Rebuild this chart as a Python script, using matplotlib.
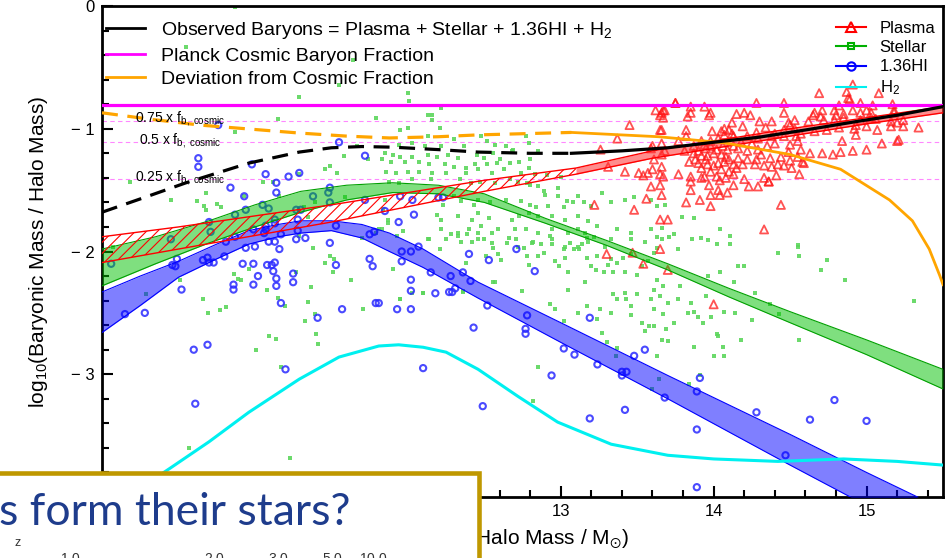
import numpy as np
import matplotlib
matplotlib.use('Agg')
import matplotlib.pyplot as plt
from matplotlib.lines import Line2D
from matplotlib.patches import Rectangle
from matplotlib.ticker import MultipleLocator, FuncFormatter

plt.rcParams['font.family'] = 'Liberation Sans'
plt.rcParams['mathtext.fontset'] = 'custom'
plt.rcParams['mathtext.rm'] = 'Liberation Sans'
plt.rcParams['mathtext.it'] = 'Liberation Sans:italic'
plt.rcParams['mathtext.default'] = 'regular'
plt.rcParams['hatch.linewidth'] = 0.8

# Planck cosmic baryon fraction (log10) and the fractions marked below it
log_fb = -0.81
frac_levels = [0.75, 0.5, 0.25]
frac_labels = [r'0.75 x f$_{\rm b,\ cosmic}$', r'0.5 x f$_{\rm b,\ cosmic}$',
               r'0.25 x f$_{\rm b,\ cosmic}$']
frac_label_x = [10.215, 10.24, 10.215]

# individual systems: (log10 halo mass, log10 component fraction)
plasma_pts = [
    (14.69, -0.71), (14.87, -0.70), (14.88, -0.75), (14.89, -0.76), (15.08, -0.71), (14.91, -0.64),
    (13.75, -0.79), (13.85, -0.82), (13.94, -0.82), (14.28, -0.79), (14.46, -0.79), (14.82, -0.81),
    (14.96, -0.79), (15.04, -0.81), (15.17, -0.80),
    (13.68, -0.85), (13.66, -0.87), (13.67, -0.91), (13.83, -0.90), (13.85, -0.87), (13.97, -0.89),
    (13.98, -0.87), (14.15, -0.88), (14.20, -0.87), (14.24, -0.89), (14.46, -0.87), (14.66, -0.87),
    (14.71, -0.85), (14.79, -0.85), (14.80, -0.89), (14.85, -0.88), (14.91, -0.85), (14.96, -0.87),
    (15.00, -0.85), (15.03, -0.87), (15.18, -0.85), (15.18, -0.87), (14.70, -0.90), (14.65, -0.89),
    (14.85, -0.91),
    (14.12, -0.95), (14.30, -0.94), (14.38, -0.94), (14.49, -0.95), (14.50, -0.97), (14.53, -0.93),
    (14.62, -0.94), (14.72, -0.93), (14.79, -0.93), (14.96, -0.93), (15.03, -0.91), (15.06, -0.92),
    (15.16, -0.94), (15.24, -0.93), (15.24, -0.98), (14.93, -0.97), (15.00, -0.98), (15.34, -0.99),
    (14.19, -0.98), (14.07, -1.00), (14.10, -1.01), (14.05, -1.02), (13.99, -1.02), (13.66, -1.01),
    (13.82, -1.01), (14.28, -1.03), (14.34, -0.99), (14.40, -1.04), (14.46, -1.01), (14.53, -1.00),
    (14.57, -1.04), (14.66, -1.02), (14.74, -1.01), (14.82, -0.99), (14.92, -1.00), (15.07, -1.01),
    (15.16, -0.98), (15.20, -0.95), (15.21, -1.09),
    (13.82, -1.06), (13.77, -1.10), (13.92, -1.10), (13.98, -1.10), (14.03, -1.08), (14.07, -1.05),
    (14.12, -1.04), (14.13, -1.06), (14.22, -1.06), (14.29, -1.08), (14.38, -1.06), (14.46, -1.06),
    (14.54, -1.06), (14.55, -1.10), (14.84, -1.10), (14.93, -1.05), (15.10, -1.12), (15.20, -1.10),
    (14.25, -1.12), (14.18, -1.11), (14.13, -1.14), (14.06, -1.14), (13.98, -1.14), (13.94, -1.13),
    (13.87, -1.14), (13.66, -1.12), (13.68, -1.18), (13.81, -1.18), (13.90, -1.18), (13.95, -1.16),
    (14.02, -1.17), (14.09, -1.17), (14.16, -1.16), (14.22, -1.18), (14.29, -1.17), (14.35, -1.14),
    (14.40, -1.12), (14.50, -1.13), (14.57, -1.17), (14.63, -1.20), (14.71, -1.20), (14.78, -1.21),
    (14.83, -1.19), (14.91, -1.18), (15.00, -1.17), (14.49, -1.19),
    (13.66, -1.21), (13.87, -1.20), (13.92, -1.22), (13.96, -1.22), (14.05, -1.21), (14.10, -1.25),
    (14.16, -1.24), (14.22, -1.25), (14.28, -1.25), (14.31, -1.21), (14.37, -1.24), (14.44, -1.23),
    (14.50, -1.26), (14.55, -1.23), (14.58, -1.27), (13.66, -1.31), (13.84, -1.27), (13.90, -1.28),
    (13.96, -1.29), (14.03, -1.28), (14.07, -1.27), (14.13, -1.29), (14.19, -1.29), (14.27, -1.29),
    (14.33, -1.30), (14.38, -1.31), (14.42, -1.29), (14.46, -1.30), (14.51, -1.32), (14.59, -1.28),
    (13.65, -1.37), (13.77, -1.37), (13.85, -1.39), (13.94, -1.39), (14.02, -1.39), (14.08, -1.40),
    (14.13, -1.37), (14.20, -1.41), (14.33, -1.40), (14.36, -1.43), (14.41, -1.38), (14.56, -1.37),
    (13.67, -1.39), (13.95, -1.25), (14.00, -1.30), (14.05, -1.33), (13.98, -1.35), (14.08, -1.23),
    (13.92, -1.32), (14.10, -1.35), (14.00, -1.20), (13.88, -1.25), (14.15, -1.32),
    (13.65, -1.46), (13.85, -1.43), (13.92, -1.40), (13.97, -1.46), (14.04, -1.42), (14.13, -1.46),
    (14.23, -1.47), (14.29, -1.47), (14.36, -1.43), (14.03, -1.50), (14.04, -1.54), (14.09, -1.52),
    (13.85, -1.50), (13.66, -1.54), (13.98, -1.54), (13.82, -1.60), (13.91, -1.58), (13.98, -1.63),
    (14.44, -1.62), (13.65, -1.74), (13.70, -1.74), (14.33, -1.82),
    (13.45, -0.97), (13.37, -1.08), (13.26, -1.17), (13.42, -1.35), (13.51, -1.36), (13.54, -1.38),
    (13.57, -1.36), (13.60, -1.33), (13.59, -1.47), (13.56, -1.57), (13.48, -1.66), (13.22, -1.62),
    (13.30, -2.02), (13.47, -2.01), (13.54, -2.10), (13.65, -1.98), (13.70, -2.15), (13.62, -0.85),
    (13.65, -0.89), (13.67, -0.85), (13.75, -0.79), (13.60, -1.14), (13.61, -1.25), (13.59, -1.16),
    (13.65, -1.01), (14.00, -2.43), (13.31, -1.31),
]

stellar_pts = [
    (10.87, -0.01), (10.55, -0.33), (11.64, -0.44), (11.55, -0.64), (11.29, -0.74), (11.15, -0.92),
    (11.79, -0.91), (10.87, -1.03), (11.58, -1.22), (11.67, -1.14), (11.74, -1.25), (11.83, -1.25),
    (11.49, -1.30), (11.46, -1.33), (11.54, -1.36), (11.29, -1.37), (11.12, -1.43), (11.05, -1.43),
    (10.18, -1.43), (10.68, -1.52), (10.62, -1.59), (10.45, -1.58), (10.75, -1.61), (10.93, -1.55),
    (11.16, -1.55), (10.68, -1.66), (11.32, -1.64), (11.39, -1.60), (11.59, -1.56), (11.85, -1.58),
    (11.84, -1.65), (11.81, -1.82), (11.70, -1.89), (11.79, -1.85), (11.87, -1.74), (10.07, -1.96),
    (10.67, -1.63), (10.78, -1.64), (10.29, -2.35), (10.51, -2.23), (10.66, -2.39), (10.69, -2.50),
    (10.77, -2.48), (10.81, -2.45), (10.86, -2.18), (10.89, -2.22), (10.91, -2.23), (10.96, -2.14),
    (11.08, -2.31), (11.15, -2.38), (11.20, -2.44), (11.09, -2.69), (11.14, -2.71), (11.01, -2.80),
    (11.17, -2.94), (11.27, -2.17), (11.38, -1.97), (11.37, -2.29), (11.35, -2.41), (11.39, -2.51),
    (11.33, -2.57), (11.40, -2.67), (11.41, -2.75), (11.46, -2.09), (11.49, -2.04), (11.52, -2.06),
    (11.51, -2.17), (11.63, -2.23), (11.71, -2.47), (11.83, -1.82), (11.87, -1.77), (10.57, -3.60),
    (11.23, -3.68), (11.29, -1.87), (11.35, -1.72), (11.95, -2.39), (12.03, -2.34), (12.10, -2.34),
    (12.36, -2.33),
    (12.00, -0.71), (12.01, -0.77), (12.22, -0.83), (12.13, -0.89), (12.16, -0.89), (12.16, -0.93),
    (12.00, -0.99), (12.21, -0.99), (11.95, -1.01), (12.13, -1.06), (12.30, -1.08), (12.48, -1.06),
    (12.52, -1.10), (11.94, -1.13), (12.03, -1.12), (12.11, -1.14), (12.22, -1.14), (12.37, -1.14),
    (12.57, -1.13), (12.64, -1.14), (12.77, -1.06), (12.85, -1.18), (12.69, -1.17), (11.85, -1.20),
    (11.90, -1.21), (11.95, -1.23), (12.03, -1.23), (12.13, -1.21), (12.19, -1.23), (12.26, -1.21),
    (12.33, -1.24), (12.45, -1.21), (12.50, -1.24), (12.56, -1.20), (11.89, -1.27), (11.98, -1.27),
    (12.07, -1.27), (12.14, -1.29), (12.24, -1.29), (12.30, -1.31), (12.38, -1.32), (12.44, -1.29),
    (12.52, -1.29), (12.58, -1.28), (12.67, -1.28), (12.73, -1.27), (12.80, -1.25), (11.86, -1.35),
    (11.92, -1.36), (12.00, -1.35), (12.07, -1.35), (12.16, -1.36), (12.25, -1.36), (12.38, -1.36),
    (12.46, -1.33), (12.55, -1.36), (12.63, -1.33), (12.74, -1.36), (12.83, -1.37), (12.91, -1.38),
    (13.00, -1.39), (11.88, -1.43), (11.94, -1.44), (12.03, -1.41), (12.15, -1.41), (12.34, -1.41),
    (12.41, -1.44), (12.47, -1.43), (12.57, -1.44), (12.67, -1.41), (12.72, -1.43), (12.78, -1.44),
    (12.80, -1.46), (12.85, -1.47), (12.98, -1.48), (12.89, -1.51), (12.90, -1.54), (12.98, -1.55),
    (13.04, -1.59), (13.11, -1.55), (13.08, -1.60), (13.15, -1.60), (13.20, -1.63), (13.27, -1.52),
    (13.33, -1.60), (13.42, -1.58), (13.48, -1.56), (13.59, -1.58), (13.63, -1.63), (13.68, -1.62),
    (12.30, -1.55), (12.23, -1.62), (12.35, -1.59), (12.43, -1.62), (12.46, -1.58), (12.54, -1.60),
    (12.64, -1.58), (12.74, -1.59), (12.80, -1.62), (12.84, -1.64), (12.92, -1.63), (13.02, -1.64),
    (12.19, -1.70), (12.22, -1.74), (12.33, -1.71), (12.42, -1.74), (12.46, -1.69), (12.53, -1.73),
    (12.68, -1.74), (12.73, -1.71), (12.79, -1.69), (12.85, -1.71), (12.94, -1.71), (13.03, -1.74),
    (13.11, -1.71), (13.18, -1.75), (13.24, -1.79), (13.37, -1.82), (13.46, -1.85), (13.59, -1.82),
    (13.63, -1.88), (12.22, -1.82), (12.33, -1.85), (12.40, -1.82), (12.48, -1.79), (12.55, -1.85),
    (12.59, -1.82), (12.70, -1.82), (12.77, -1.82), (12.85, -1.85), (12.94, -1.82), (13.05, -1.85),
    (13.11, -1.82), (13.16, -1.85), (13.22, -1.88), (13.33, -1.90), (13.46, -1.90), (13.55, -1.92),
    (12.14, -1.90), (12.25, -1.90), (12.35, -1.92), (12.46, -1.90), (12.55, -1.93), (12.66, -1.89),
    (12.72, -1.96), (12.81, -1.93), (12.94, -1.90), (13.03, -1.96), (13.11, -1.96), (13.18, -1.92),
    (13.29, -1.96), (13.63, -1.97), (12.60, -1.25), (12.68, -1.18), (12.79, -1.12), (12.79, -1.32),
    (11.93, -1.87), (11.97, -1.83), (12.13, -1.90), (12.21, -1.98), (12.28, -1.86), (12.33, -1.87),
    (12.39, -1.86), (12.42, -1.92), (12.38, -2.09), (12.46, -1.85), (12.50, -1.90), (12.51, -2.04),
    (12.56, -1.97), (12.59, -2.02), (12.57, -2.25), (12.61, -2.07), (12.65, -1.93), (12.71, -1.90),
    (12.76, -1.97), (12.78, -2.04), (12.79, -2.11), (12.82, -1.92), (12.87, -1.94), (12.85, -2.04),
    (12.89, -2.01), (12.93, -1.87), (12.94, -1.94), (12.96, -2.08), (12.99, -2.12), (13.03, -2.05),
    (13.02, -1.98), (13.05, -2.17), (13.06, -1.93), (13.09, -1.98), (13.12, -1.98), (13.14, -1.94),
    (13.17, -1.89), (13.17, -2.05), (13.20, -2.12), (13.23, -2.15), (13.24, -2.04), (13.28, -2.17),
    (13.31, -2.11), (13.33, -2.06), (13.34, -2.17), (13.37, -2.09), (13.41, -2.05), (13.42, -2.17),
    (13.46, -2.02), (13.50, -2.19), (13.53, -2.12), (13.57, -2.08), (13.61, -2.01), (13.63, -2.23),
    (13.67, -2.28), (13.61, -2.31), (13.65, -2.36), (13.70, -2.42), (13.34, -2.35), (13.37, -2.39),
    (13.43, -2.39), (13.42, -2.34), (13.46, -2.44), (13.50, -2.35), (13.59, -2.39), (13.61, -2.47),
    (11.90, -2.14), (11.95, -2.39), (12.10, -2.34), (12.36, -2.32), (12.56, -2.25), (12.75, -2.32),
    (12.93, -2.43), (12.96, -2.47), (13.02, -2.57), (13.05, -2.31), (13.11, -2.50), (13.16, -2.25),
    (13.17, -2.44), (13.24, -2.55), (13.26, -2.47), (13.33, -2.50), (13.46, -2.52), (13.53, -2.58),
    (13.55, -2.65), (13.58, -2.61), (13.61, -2.61), (13.67, -2.51), (13.69, -2.63), (13.66, -2.72),
    (13.70, -2.73), (13.27, -2.66), (13.30, -2.74), (13.36, -2.85), (13.37, -2.79), (13.63, -2.85),
    (12.85, -2.94), (12.82, -3.22), (13.64, -3.04), (13.60, -3.12),
    (13.78, -2.28), (13.77, -2.39), (13.83, -2.50), (13.85, -2.42), (13.87, -2.49), (13.90, -2.53),
    (13.93, -2.58), (13.95, -2.36), (13.98, -2.53), (14.02, -2.67), (14.03, -2.69), (14.06, -2.78),
    (14.07, -2.85), (14.07, -2.49), (14.14, -2.50), (14.18, -2.72), (13.87, -2.78), (14.00, -2.85),
    (13.84, -3.08), (13.91, -3.01), (14.25, -2.56), (14.27, -2.34), (14.37, -2.43), (14.43, -2.51),
    (14.56, -2.72), (15.31, -2.40), (14.86, -2.23), (14.13, -2.25), (13.74, -2.58),
    (13.79, -1.72), (13.87, -1.73), (14.04, -1.82), (14.11, -1.87), (14.11, -1.94), (14.02, -1.94),
    (13.96, -1.91), (13.92, -1.89), (13.86, -1.90), (14.55, -1.95), (13.66, -1.81), (13.66, -1.90),
    (13.71, -1.88), (13.74, -1.86), (13.77, -1.98),
    (13.96, -2.20), (14.04, -2.17), (14.20, -2.12), (14.16, -2.12), (14.42, -2.01), (14.55, -1.96),
    (14.56, -2.04), (14.74, -2.07), (14.70, -2.15),
]

hi_pts = [
    (10.76, -0.97), (11.55, -1.11), (10.63, -1.24), (10.63, -1.31), (11.72, -1.22), (10.98, -1.29),
    (11.07, -1.37), (11.22, -1.39), (11.29, -1.36), (11.14, -1.44), (11.14, -1.52), (11.49, -1.48),
    (11.48, -1.52), (11.49, -1.60), (11.38, -1.55), (10.93, -1.55), (10.84, -1.48), (10.94, -1.66),
    (11.09, -1.65), (11.27, -1.66), (11.30, -1.66), (11.72, -1.58), (11.85, -1.67), (10.70, -1.76),
    (10.87, -1.70), (10.71, -1.84), (10.45, -1.90), (10.87, -1.88), (10.99, -1.82), (11.07, -1.82),
    (11.13, -1.74), (11.28, -1.74), (11.53, -1.79), (11.78, -1.84), (11.75, -1.86),
    (10.06, -2.10), (10.49, -2.06), (10.46, -2.11), (10.48, -2.12), (10.52, -2.31), (10.15, -2.51),
    (10.28, -2.50), (10.60, -2.80), (10.69, -2.76), (10.61, -3.24), (10.66, -2.07), (10.69, -2.05),
    (10.70, -2.09), (10.73, -2.09), (10.80, -2.04), (11.05, -1.62), (10.81, -1.92), (10.94, -1.97),
    (11.00, -1.96), (11.09, -1.92), (11.13, -1.92), (11.17, -1.86), (11.16, -1.98), (11.06, -1.85),
    (11.13, -1.77), (11.07, -1.79), (11.28, -1.83), (11.27, -1.90), (11.33, -1.89), (10.92, -2.10),
    (10.99, -2.10), (11.08, -2.11), (11.11, -2.11), (11.13, -2.09), (11.12, -2.16), (11.02, -2.20),
    (11.14, -2.22), (10.86, -2.27), (10.86, -2.31), (10.99, -2.27), (11.14, -2.28), (11.25, -2.18),
    (11.25, -2.25), (11.17, -2.42), (11.41, -2.54), (11.57, -2.47), (11.79, -2.42), (11.20, -2.96),
    (11.49, -1.93), (11.53, -2.11), (11.75, -2.06), (11.77, -2.12),
    (12.07, -1.96), (11.96, -2.00), (12.02, -2.00), (11.96, -2.08), (12.15, -2.17), (12.02, -2.23),
    (12.02, -2.32), (12.18, -2.34), (12.27, -2.33), (12.29, -2.33), (12.31, -2.30), (12.28, -2.20),
    (12.36, -2.17), (12.41, -2.24), (12.40, -2.02), (12.53, -2.07), (12.71, -1.98), (12.83, -2.16),
    (11.93, -2.47), (12.02, -2.47), (12.52, -2.44), (12.43, -2.62), (12.78, -2.52), (12.77, -2.63),
    (12.77, -2.67), (12.10, -2.95), (12.49, -3.26), (13.02, -2.79), (13.09, -2.84), (12.94, -3.01),
    (13.19, -2.54), (13.24, -2.92), (13.40, -2.98), (13.40, -3.01), (13.43, -2.98), (13.48, -2.85),
    (13.55, -2.80), (13.42, -3.29), (13.19, -3.36), (13.68, -3.19), (11.81, -2.42),
    (13.89, -3.14), (13.91, -3.03), (13.89, -3.45), (13.89, -3.92), (14.28, -3.31), (14.63, -3.37),
    (14.79, -3.21), (15.00, -3.38), (14.47, -3.66),
    (11.95, -1.55), (12.03, -1.58), (12.04, -1.70), (11.94, -1.76), (12.20, -1.56), (12.23, -1.56),
]

# model bands (lower / upper edge)
plasma_band_x = [10.0, 10.5, 11.0, 11.5, 11.9, 12.5, 13.1, 13.6, 14.0, 14.5, 15.0, 15.5]
plasma_band_lo = [-2.09, -1.98, -1.87, -1.76, -1.66, -1.51, -1.37, -1.24, -1.16, -1.06, -0.96, -0.87]
plasma_band_hi = [-1.88, -1.80, -1.71, -1.62, -1.54, -1.42, -1.32, -1.18, -1.10, -1.00, -0.91, -0.82]

stellar_band_x = [10.0, 10.35, 10.7, 11.0, 11.3, 11.6, 11.9, 12.2, 12.5, 12.9, 13.3, 13.7, 14.1,
                  14.5, 15.0, 15.5]
stellar_band_lo = [-2.28, -2.10, -1.93, -1.80, -1.68, -1.58, -1.52, -1.53, -1.60, -1.77, -1.95,
                   -2.15, -2.37, -2.58, -2.84, -3.12]
stellar_band_hi = [-1.98, -1.88, -1.75, -1.62, -1.51, -1.46, -1.44, -1.46, -1.53, -1.73, -1.91,
                   -2.10, -2.30, -2.49, -2.72, -2.96]

hi_band_x = [10.0, 10.25, 10.5, 10.75, 10.96, 11.15, 11.3, 11.5, 11.7, 11.88, 12.1, 12.46, 13.0,
             13.7, 14.5, 15.0, 15.5]
hi_band_lo = [-2.66, -2.44, -2.21, -2.06, -1.94, -1.88, -1.85, -1.83, -1.89, -2.00, -2.13, -2.38,
              -2.74, -3.20, -3.74, -4.07, -4.40]
hi_band_hi = [-2.33, -2.20, -2.08, -1.94, -1.83, -1.78, -1.75, -1.75, -1.78, -1.85, -1.98, -2.25,
              -2.58, -3.01, -3.49, -3.80, -4.10]

h2_x = [10.0, 10.2, 10.44, 10.7, 10.96, 11.29, 11.55, 11.81, 11.94, 12.1, 12.25, 12.46, 12.72,
        12.98, 13.33, 13.7, 14.0, 14.42, 14.85, 15.2, 15.5]
h2_y = [-4.15, -3.97, -3.77, -3.55, -3.31, -3.04, -2.86, -2.77, -2.76, -2.78, -2.82, -2.96, -3.18,
        -3.39, -3.57, -3.66, -3.69, -3.71, -3.69, -3.71, -3.74]

obs_x = [10.0, 10.3, 10.55, 10.96, 11.29, 11.5, 11.7, 11.9, 12.2, 12.46, 12.8, 13.07, 13.4, 13.7,
         14.0, 14.29, 14.6, 14.94, 15.2, 15.5]
obs_y = [-1.68, -1.55, -1.44, -1.28, -1.19, -1.155, -1.145, -1.15, -1.17, -1.19, -1.20, -1.20,
         -1.18, -1.155, -1.11, -1.07, -1.01, -0.94, -0.89, -0.82]

dev_x = [10.0, 10.3, 10.64, 11.29, 11.6, 11.88, 12.2, 12.46, 13.07, 13.64, 14.07, 14.5, 14.83,
         15.15, 15.3, 15.41, 15.48, 15.5]
dev_y = [-0.87, -0.92, -0.97, -1.035, -1.06, -1.075, -1.065, -1.05, -1.03, -1.065, -1.115, -1.21,
         -1.33, -1.58, -1.75, -1.98, -2.20, -2.27]

split_x = 13.1   # dashed / hatched below this mass

plasma_pts = np.array(plasma_pts)
stellar_pts = np.array(stellar_pts)
hi_pts = np.array(hi_pts)

fig = plt.figure(figsize=(9.51, 5.58), dpi=100)
ax = fig.add_axes([102/951, 1-497/558, 841/951, 491/558])

# scatter of individual systems
ax.scatter(stellar_pts[:, 0], stellar_pts[:, 1], marker='s', s=12, color='#5cd65c',
           alpha=0.9, lw=0, zorder=2)
ax.scatter(hi_pts[:, 0], hi_pts[:, 1], marker='o', s=20, facecolors='none',
           edgecolors='#2a2aff', linewidths=1.5, alpha=0.85, zorder=2)
ax.scatter(plasma_pts[:, 0], plasma_pts[:, 1], marker='^', s=34, facecolors='none',
           edgecolors='#ff1a1a', linewidths=1.3, alpha=0.75, zorder=2)

# stellar and HI bands
ax.fill_between(stellar_band_x, stellar_band_lo, stellar_band_hi, color='#00c000',
                alpha=0.5, lw=0, zorder=3)
ax.plot(stellar_band_x, stellar_band_lo, color='#00a000', lw=0.8, zorder=3)
ax.plot(stellar_band_x, stellar_band_hi, color='#00a000', lw=0.8, zorder=3)
ax.fill_between(hi_band_x, hi_band_lo, hi_band_hi, color='#0000ff', alpha=0.5, lw=0, zorder=3)
ax.plot(hi_band_x, hi_band_lo, color='#0000ff', lw=0.8, zorder=3)
ax.plot(hi_band_x, hi_band_hi, color='#0000ff', lw=0.8, zorder=3)

# plasma band: hatched at low mass, solid above
pbx = np.array(plasma_band_x)
plo = np.array(plasma_band_lo)
phi = np.array(plasma_band_hi)
lo_m = pbx <= split_x
hi_m = pbx >= split_x
ax.fill_between(pbx[lo_m], plo[lo_m], phi[lo_m], facecolor='none', edgecolor='red',
                hatch='///', lw=0, zorder=3.2)
ax.fill_between(pbx[hi_m], plo[hi_m], phi[hi_m], color='#ff3030', alpha=0.55, lw=0, zorder=3.2)
ax.plot(pbx, plo, color='red', lw=1.0, zorder=3.3)
ax.plot(pbx, phi, color='red', lw=1.0, zorder=3.3)

# cosmic fraction and its fractions
ax.axhline(log_fb, color='#ff00ff', lw=2.3, zorder=4)
for f, lab, lx in zip(frac_levels, frac_labels, frac_label_x):
    yl = log_fb + np.log10(f)
    ax.axhline(yl, color='#ff88ff', lw=0.8, ls=(0, (4, 3)), zorder=1.5)
    ax.text(lx, yl + 0.015, lab, fontsize=10, va='center', ha='left', zorder=5)

# H2, observed total and deviation curves
ax.plot(h2_x, h2_y, color='#00f0f0', lw=2.2, zorder=4)
ox = np.array(obs_x)
oy = np.array(obs_y)
ax.plot(ox[ox <= split_x], oy[ox <= split_x], color='k', lw=2.3, ls=(0, (5, 3)), zorder=4.2)
ax.plot(ox[ox >= 13.07], oy[ox >= 13.07], color='k', lw=2.3, zorder=4.2)
dx = np.array(dev_x)
dy = np.array(dev_y)
ax.plot(dx[dx <= split_x], dy[dx <= split_x], color='#ffa500', lw=2.3, ls=(0, (5, 3)), zorder=4.1)
ax.plot(dx[dx >= 13.07], dy[dx >= 13.07], color='#ffa500', lw=2.0, zorder=4.1)

ax.set_xlim(10, 15.5)
ax.set_ylim(-4, 0)
ax.xaxis.set_major_locator(MultipleLocator(1))
ax.xaxis.set_minor_locator(MultipleLocator(0.2))
ax.yaxis.set_major_locator(MultipleLocator(1))
ax.yaxis.set_minor_locator(MultipleLocator(0.2))
# tick labels that sit under the slide box are left blank
ax.xaxis.set_major_formatter(FuncFormatter(lambda v, pos: '%d' % v if v >= 13 else ''))
ax.yaxis.set_major_formatter(FuncFormatter(
    lambda v, pos: '0' if v == 0 else ('' if v < -3.5 else '\u2212 %d' % abs(v))))
ax.tick_params(which='both', direction='in', top=False, right=False, width=1.5, labelsize=12)
ax.tick_params(which='major', length=8, pad=5)
ax.tick_params(which='minor', length=5)
for sp in ax.spines.values():
    sp.set_linewidth(2)

ax.set_ylabel(r'log$_{10}$(Baryonic Mass / Halo Mass)', fontsize=15)
ax.yaxis.set_label_coords(-0.062, 0.5)
ax.set_xlabel(r'log$_{10}$(Halo Mass / M$_{\odot}$)', fontsize=15)
ax.xaxis.set_label_coords(0.505, -0.062)

# legends
left_handles = [Line2D([], [], color='k', lw=2),
                Line2D([], [], color='#ff00ff', lw=2),
                Line2D([], [], color='#ffa500', lw=2)]
left_labels = ['Observed Baryons = Plasma + Stellar + 1.36HI + H$_2$',
               'Planck Cosmic Baryon Fraction', 'Deviation from Cosmic Fraction']
leg1 = ax.legend(left_handles, left_labels, loc='upper left', bbox_to_anchor=(0.0, 0.979),
                 frameon=False, fontsize=14, handlelength=2.0, handletextpad=0.85,
                 labelspacing=0.3, borderaxespad=0, borderpad=0.2)
ax.add_artist(leg1)

right_handles = [Line2D([], [], color='red', lw=1.5, marker='^', ms=7, mfc='none', mew=1.5),
                 Line2D([], [], color='#00b000', lw=1.5, marker='s', ms=5, mfc='none', mew=1.5),
                 Line2D([], [], color='#0000ff', lw=1.5, marker='o', ms=6, mfc='none', mew=1.5),
                 Line2D([], [], color='#00f0f0', lw=1.5)]
right_labels = ['Plasma', 'Stellar', '1.36HI', 'H$_2$']
ax.legend(right_handles, right_labels, loc='upper right', bbox_to_anchor=(0.995, 0.976),
          frameon=False, fontsize=12, handlelength=1.8, handletextpad=0.85,
          labelspacing=0.25, borderaxespad=0, borderpad=0.2)

# slide box covering the lower-left corner
fig.add_artist(Rectangle((-0.0105, -0.02), 0.5137, 0.1723, transform=fig.transFigure,
                         facecolor='white', edgecolor='#bf9800', lw=3.3, zorder=10))
fig.text(-1/951, 1-525/558, 's form their stars?', fontsize=32, family='Lato',
         color='#1e3c8c', ha='left', va='baseline', zorder=11)
fig.text(18/951, 1-543/558, r'$z$', math_fontfamily='cm', fontsize=9,
         ha='center', va='center', color='#333333', zorder=11)
z_ticks = ['1.0', '2.0', '3.0', '5.0', '10.0']
z_tick_px = [70, 214, 278, 332, 373]
for lab, px in zip(z_ticks, z_tick_px):
    fig.text(px/951, 1-552/558, '$' + lab + '$', math_fontfamily='cm', fontsize=10,
             ha='center', va='top', color='#333333', zorder=11)

fig.savefig('out.png', dpi=100)
